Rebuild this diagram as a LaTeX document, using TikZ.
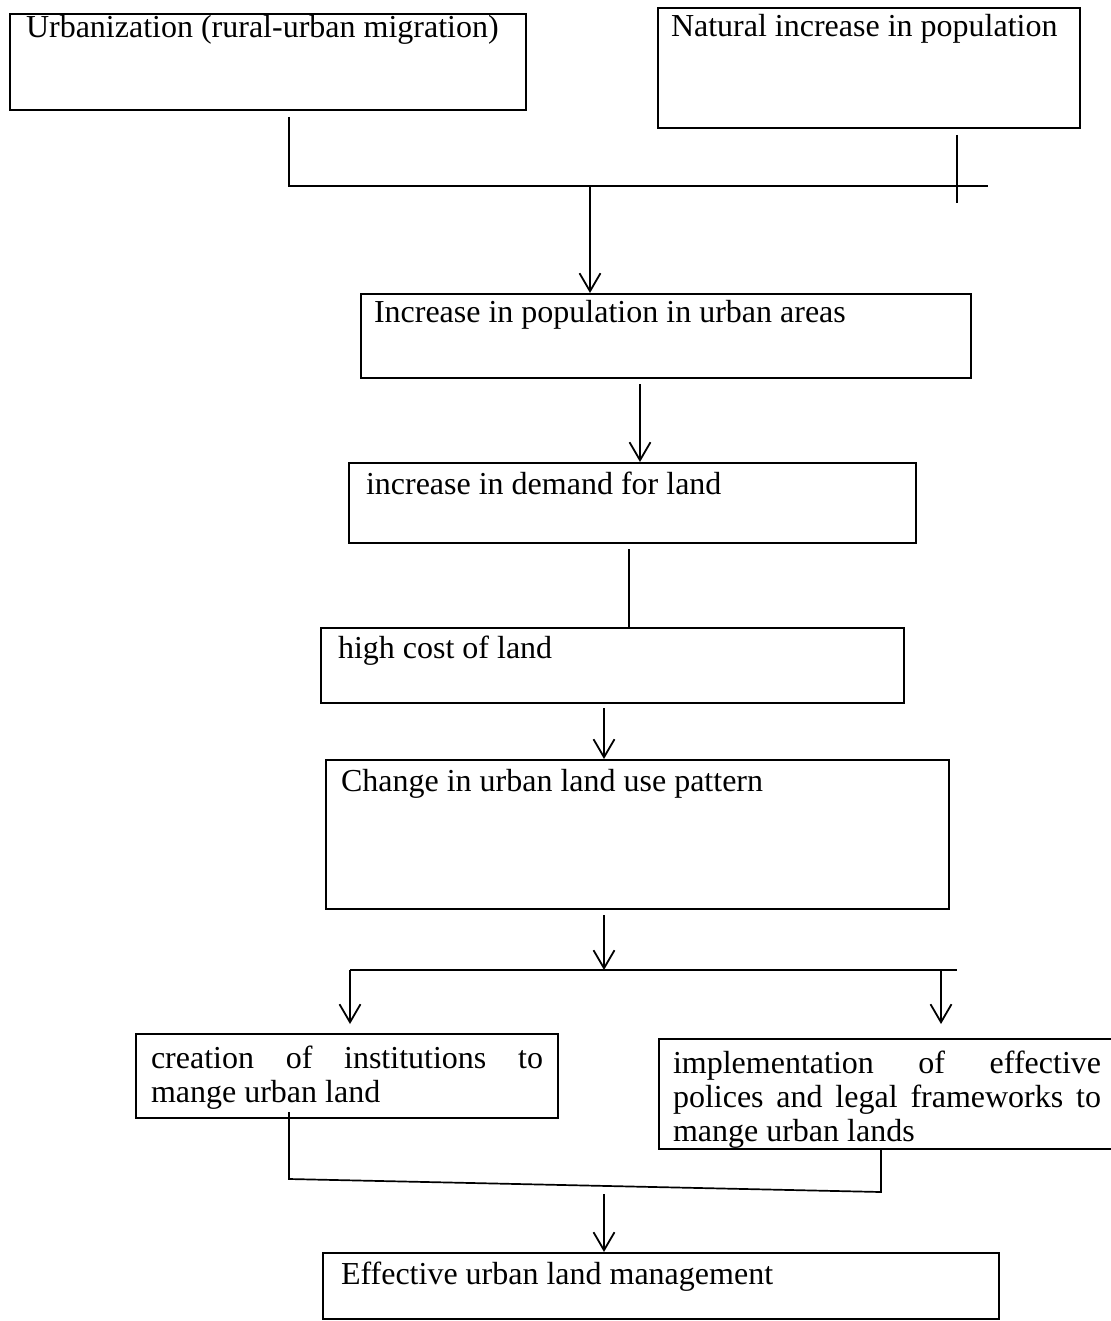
\documentclass[tikz,border=0pt]{standalone}
\usepackage{fontspec}
\setmainfont{Liberation Serif}
\usetikzlibrary{arrows.meta}
\newcommand{\boxtext}[4]{\parbox[c][#1][t]{#2}{\hyphenpenalty=10000\vspace*{#3}\strut#4}}
\begin{document}
\begin{tikzpicture}[x=0.5pt,y=-0.5pt,
    stage/.style={draw, line width=1pt, rectangle, inner ysep=0pt, anchor=north west,
      font=\fontsize{16}{17}\selectfont},
    link/.style={line width=0.85pt},
    flow/.style={link, -{Straight Barb[length=9pt,width=10.5pt,line width=0.9pt]}}]
        \useasboundingbox (0,0) rectangle (1110,1321);
        \node [stage, inner xsep=8pt] (urban) at (9,13) {\boxtext{48pt}{242pt}{0pt}{Urbanization (rural-urban migration)}};
        \node [stage, inner xsep=6.5pt] (natural) at (657,7) {\boxtext{60pt}{198pt}{2.6pt}{Natural increase in population}};
        \node [stage, inner xsep=6.5pt] (pop) at (360,293) {\boxtext{42pt}{292pt}{2.6pt}{Increase in population in urban areas}};
        \node [stage, inner xsep=8.5pt] (demand) at (348,462) {\boxtext{40pt}{266.5pt}{3.6pt}{increase in demand for land}};
        \node [stage, inner xsep=8.5pt] (cost) at (320,627) {\boxtext{37.5pt}{274.5pt}{3.1pt}{high cost of land}};
        \node [stage, inner xsep=7.5pt] (landuse) at (325,759) {\boxtext{74.5pt}{296.5pt}{3.6pt}{Change in urban land use pattern}};
        \node [stage, inner xsep=7.5pt] (inst) at (135,1033) {\boxtext{42pt}{196pt}{5.1pt}{creation of institutions to mange urban land}};
        \node [stage, inner xsep=7pt] (policy) at (658,1038) {\boxtext{55pt}{214pt}{5.1pt}{implementation of effective polices and legal frameworks to mange urban lands}};
        \node [stage, inner xsep=9pt] (manage) at (322,1252) {\boxtext{33pt}{320pt}{3.6pt}{Effective urban land management}};
        % top merge
        \coordinate (hub) at (590,186);
        \draw [link, shorten <=3pt] (urban.south -| 289,0) |- (hub) -- (hub -| 988,0);
        \draw [link, shorten <=3pt] (natural.south -| 957,0) -- ++(0,74);
        \draw [flow] (hub) -- (hub |- pop.north);
        \draw [flow, shorten <=2.5pt] (pop.south -| 640,0) -- (demand.north -| 640,0);
        \draw [link, shorten <=2.5pt] (demand.south -| 629,0) -- (cost.north -| 629,0);
        \draw [flow, shorten <=2pt] (cost.south -| 604,0) -- (landuse.north -| 604,0);
        % split
        \coordinate (split) at (604,970);
        \draw [flow, shorten <=2.5pt] (landuse.south -| split) -- (split);
        \draw [link] (split -| 350,0) -- (split -| 957,0);
        \draw [flow, shorten >=4.5pt] (split -| 350,0) -- (inst.north -| 350,0);
        \draw [flow, shorten >=7pt] (split -| 941,0) -- (policy.north -| 941,0);
        % bottom merge
        \coordinate (merge) at (604,1186);
        \draw [link] (inst.south -| 289,0) ++(0,-7) -- (289,1179) -- (881,1192) -- (policy.south -| 881,0);
        \draw [flow, shorten <=4pt] (merge) -- (manage.north -| merge);
\end{tikzpicture}
\end{document}
